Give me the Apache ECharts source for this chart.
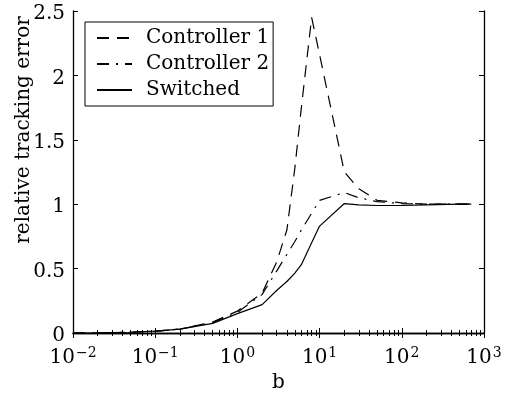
<!DOCTYPE html>
<html>
<head>
<meta charset="utf-8">
<script src="https://cdn.jsdelivr.net/npm/echarts@6/dist/echarts.min.js"></script>
<style>
  html, body { margin: 0; padding: 0; background: #fff; }
  #chart { width: 508px; height: 394px; }
</style>
</head>
<body>
<div id="chart"></div>
<script>
// b values (log axis) and the three error curves
const bValues     = [0.01, 0.02, 0.05, 0.1, 0.2, 0.5, 1, 2, 3, 4, 5, 6, 8, 10, 20, 30, 50, 100, 200, 500, 700]
const controller1 = [0, 0.002, 0.006, 0.014, 0.03, 0.085, 0.17, 0.31, 0.55, 0.80, 1.28, 1.75, 2.45, 2.16, 1.25, 1.12, 1.03, 1.01, 1.0, 1.0, 1.0]
const controller2 = [0, 0.002, 0.006, 0.014, 0.03, 0.08, 0.16, 0.30, 0.48, 0.61, 0.71, 0.80, 0.93, 1.03, 1.09, 1.05, 1.02, 1.005, 1.0, 1.0, 1.0]
const switched    = [0, 0.002, 0.006, 0.014, 0.03, 0.075, 0.15, 0.22, 0.33, 0.40, 0.465, 0.53, 0.70, 0.83, 1.005, 0.995, 0.99, 0.99, 0.995, 1.0, 1.0]
const seriesNames = ['Controller 1', 'Controller 2', 'Switched']
const yTicks = [0, 0.5, 1, 1.5, 2, 2.5]

const FONT = 'DejaVu Serif'
const pairs = ys => bValues.map((b, i) => [b, ys[i]])

const chart = echarts.init(document.getElementById('chart'))

const logLabel = v => {
  const e = Math.round(Math.log10(v))
  return '{a|10}{b|' + (e < 0 ? '\u2212' + (-e) : e) + '}'
}

const xBase = {
  type: 'log',
  logBase: 10,
  min: 0.01,
  max: 1000,
  splitNumber: 5,
  axisLine: { show: true, lineStyle: { color: '#000', width: 1.3 } },
  axisTick: { show: true, inside: true, length: 5, lineStyle: { color: '#000' } },
  minorTick: { show: true, splitNumber: 9, length: 3, lineStyle: { color: '#000' } },
  splitLine: { show: false },
  minorSplitLine: { show: false }
}

const yBase = {
  type: 'value',
  min: yTicks[0],
  max: yTicks[yTicks.length - 1],
  interval: 0.5,
  axisLine: { show: true, lineStyle: { color: '#000', width: 1.3 } },
  axisTick: { show: true, inside: true, length: 5, lineStyle: { color: '#000' } },
  splitLine: { show: false }
}

const option = {
  animation: false,
  backgroundColor: '#fff',
  grid: { left: 73, right: 24, top: 11, bottom: 61, outerBoundsMode: 'none', containLabel: false },
  xAxis: [
    Object.assign({}, xBase, {
      position: 'bottom',
      name: 'b',
      nameLocation: 'middle',
      nameGap: 40,
      nameTextStyle: { fontFamily: FONT, fontSize: 20, color: '#000' },
      axisLabel: {
        margin: 13,
        formatter: logLabel,
        rich: {
          a: { fontFamily: FONT, fontSize: 20, color: '#000', verticalAlign: 'bottom' },
          b: { fontFamily: FONT, fontSize: 14, color: '#000', verticalAlign: 'bottom', padding: [0, 0, 8, 1] }
        }
      }
    }),
    Object.assign({}, xBase, { position: 'top', axisLabel: { show: false } })
  ],
  yAxis: [
    Object.assign({}, yBase, {
      position: 'left',
      axisLabel: {
        margin: 8,
        formatter: v => '{v|' + v + '}',
        rich: { v: { fontFamily: FONT, fontSize: 20, color: '#000', padding: [6, 0, 0, 0] } }
      }
    }),
    Object.assign({}, yBase, { position: 'right', axisLabel: { show: false } })
  ],
  graphic: [{
    type: 'text',
    x: 24,
    y: 130,
    rotation: Math.PI / 2,
    style: {
      text: 'relative tracking error',
      font: '20px "' + FONT + '"',
      fill: '#000',
      align: 'center',
      verticalAlign: 'middle'
    }
  }],
  legend: {
    orient: 'vertical',
    left: 85,
    top: 22,
    padding: [6, 4, 6, 11],
    itemGap: 6,
    itemWidth: 35,
    itemHeight: 14,
    backgroundColor: '#fff',
    borderColor: '#000',
    borderWidth: 1,
    data: seriesNames,
    itemStyle: { opacity: 0 },
    textStyle: { fontFamily: FONT, fontSize: 20, color: '#000', lineHeight: 20, padding: [0, 0, 0, 9] }
  },
  series: [
    {
      name: seriesNames[0], type: 'line', symbol: 'none', data: pairs(controller1),
      itemStyle: { color: '#000' },
      lineStyle: { color: '#000', width: 1.2, type: [12, 8] }
    },
    {
      name: seriesNames[1], type: 'line', symbol: 'none', data: pairs(controller2),
      itemStyle: { color: '#000' },
      lineStyle: { color: '#000', width: 1.2, type: [12, 7, 2, 7] }
    },
    {
      name: seriesNames[2], type: 'line', symbol: 'none', data: pairs(switched),
      itemStyle: { color: '#000' },
      lineStyle: { color: '#000', width: 1.2, type: 'solid' }
    }
  ]
}

chart.setOption(option)
</script>
</body>
</html>
